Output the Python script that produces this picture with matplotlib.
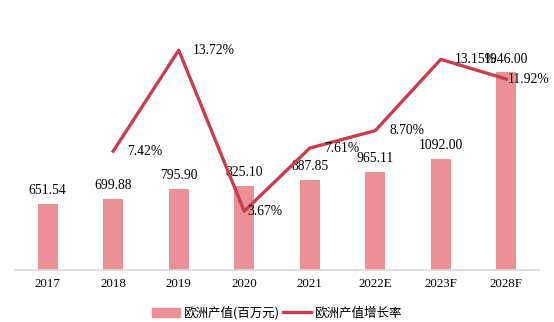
import numpy as np
import matplotlib
matplotlib.use('Agg')
import matplotlib.pyplot as plt
from matplotlib.lines import Line2D
from matplotlib.patches import Patch

years = ['2017', '2018', '2019', '2020', '2021', '2022E', '2023F', '2028F']
output = [651.54, 699.88, 795.90, 825.10, 887.85, 965.11, 1092.00, 1946.00]
growth_years = ['2018', '2019', '2020', '2021', '2022E', '2023F', '2028F']
growth = [7.42, 13.72, 3.67, 7.61, 8.70, 13.15, 11.92]

bar_color = '#EA9096'
line_color = '#C63E50'
serif = ['Liberation Serif', 'DejaVu Serif']
cjk = ['Noto Sans CJK SC', 'DejaVu Sans']

fig = plt.figure(figsize=(5.54, 3.22), dpi=100)
ax = fig.add_axes([0.027, 0.1615, 0.946, 0.788])
x = np.arange(len(years))
ax.bar(x, output, width=0.3, color=bar_color, zorder=2)
ax.set_xlim(-0.5, len(years) - 0.5)
ax.set_ylim(0, 2500)
for xi, v in zip(x, output):
    ax.annotate('%.2f' % v, (xi, v), xytext=(0, 5), textcoords='offset points',
                ha='center', va='bottom', fontsize=9.8, family=serif)

for s in ['top', 'right', 'left']:
    ax.spines[s].set_visible(False)
ax.spines['bottom'].set_color('#D9D9D9')
ax.spines['bottom'].set_linewidth(1.2)
ax.set_yticks([])
ax.set_xticks(x)
ax.set_xticklabels(years, fontsize=9.3, family=serif)
ax.tick_params(axis='x', length=0, pad=6)

ax2 = ax.twinx()
gx = [years.index(y) for y in growth_years]
ax2.plot(gx, growth, color=line_color, lw=2.4, zorder=3)
ax2.set_ylim(0, 15.84)
ax2.set_yticks([])
for s in ['top', 'right', 'left', 'bottom']:
    ax2.spines[s].set_visible(False)
# label offsets in points
offs = [10, 10, 2, 10, 10, 10, 1]
for xi, v, o in zip(gx, growth, offs):
    ax2.annotate('%.2f%%' % v, (xi, v), xytext=(o, 0), textcoords='offset points',
                 ha='left', va='center', fontsize=9.8, family=serif)

handles = [Patch(color=bar_color), Line2D([], [], color=line_color, lw=2.4)]
fig.legend(handles, ['欧洲产值(百万元)', '欧洲产值增长率'], loc='center',
           bbox_to_anchor=(0.5, 0.028), ncol=2, frameon=False,
           prop={'family': cjk, 'size': 9}, handlelength=2.2,
           handletextpad=0.3, columnspacing=0.3)

fig.savefig('out.png', dpi=100)
